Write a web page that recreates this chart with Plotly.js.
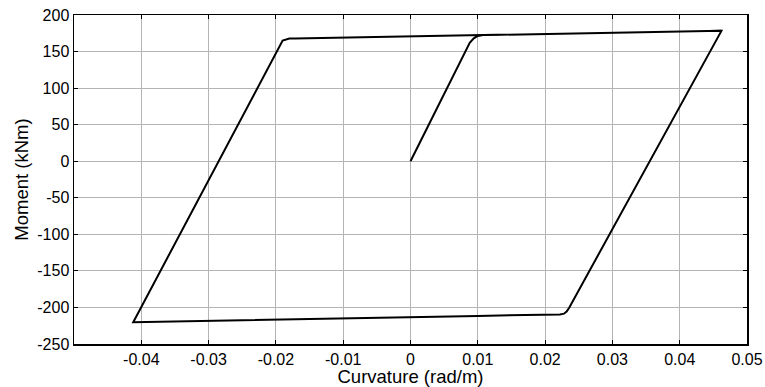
<!DOCTYPE html>
<html>
<head>
<meta charset="utf-8">
<script src="https://cdn.plot.ly/plotly-3.0.1.min.js"></script>
<style>
html,body{margin:0;padding:0;background:#fff;}
#chart{width:765px;height:387px;}
</style>
</head>
<body>
<div id="chart"></div>
<script>
// Moment-curvature hysteresis
var curvature = [0.0000, 0.0088, 0.0094, 0.0100, 0.0108, 0.0200, 0.0300, 0.0400, 0.0462,
                 0.0236, 0.0232, 0.0228, 0.0222, 0.0100, 0.0000, -0.0100, -0.0200, -0.0300, -0.0412,
                 -0.0190, -0.0185, -0.0180, -0.0172, -0.0100, 0.0000, 0.0108, 0.0200, 0.0300, 0.0400, 0.0462];
var moment    = [0.0, 162.0, 168.0, 171.3, 172.5, 174.0, 175.7, 177.3, 178.3,
                 -200.0, -205.5, -208.5, -209.5, -211.6, -213.3, -215.0, -216.7, -218.4, -220.3,
                 165.0, 166.8, 167.8, 168.0, 169.2, 170.8, 172.5, 174.0, 175.7, 177.3, 178.3];

var xTickVals = [-0.04, -0.03, -0.02, -0.01, 0, 0.01, 0.02, 0.03, 0.04, 0.05];
var xTickText = ['-0.04', '-0.03', '-0.02', '-0.01', '0', '0.01', '0.02', '0.03', '0.04', '0.05'];
var yTickVals = [-250, -200, -150, -100, -50, 0, 50, 100, 150, 200];
var yTickText = ['-250', '-200', '-150', '-100', '-50', '0', '50', '100', '150', '200'];

var trace = {
  x: curvature,
  y: moment,
  type: 'scatter',
  mode: 'lines',
  line: {color: '#000000', width: 2},
  hoverinfo: 'skip'
};

var font = {family: '"Liberation Sans", Arial, sans-serif', size: 16, color: '#000'};
var titleFont = {family: '"Liberation Sans", Arial, sans-serif', size: 18.5, color: '#000'};

var layout = {
  width: 765,
  height: 387,
  margin: {l: 74, r: 18, t: 15, b: 43},
  paper_bgcolor: '#fff',
  plot_bgcolor: '#fff',
  showlegend: false,
  font: font,
  xaxis: {
    range: [-0.05, 0.05],
    tickmode: 'array',
    tickvals: xTickVals,
    ticktext: xTickText,
    ticks: 'inside',
    ticklen: 4,
    tickcolor: '#000',
    showgrid: true,
    gridcolor: '#b4b4b4',
    gridwidth: 1,
    zeroline: false,
    showline: true,
    linecolor: '#000',
    linewidth: 1.5,
    mirror: 'ticks',
    tickfont: font,
    title: {text: 'Curvature (rad/m)', font: titleFont, standoff: 5}
  },
  yaxis: {
    range: [-250, 200],
    tickmode: 'array',
    tickvals: yTickVals,
    ticktext: yTickText,
    ticks: 'inside',
    ticklen: 4,
    tickcolor: '#000',
    showgrid: true,
    gridcolor: '#b4b4b4',
    gridwidth: 1,
    zeroline: false,
    showline: true,
    linecolor: '#000',
    linewidth: 1.5,
    mirror: 'ticks',
    tickfont: font,
    title: {text: 'Moment (kNm)', font: titleFont, standoff: 4}
  }
};

Plotly.newPlot('chart', [trace], layout, {displayModeBar: false, staticPlot: true});
</script>
</body>
</html>
